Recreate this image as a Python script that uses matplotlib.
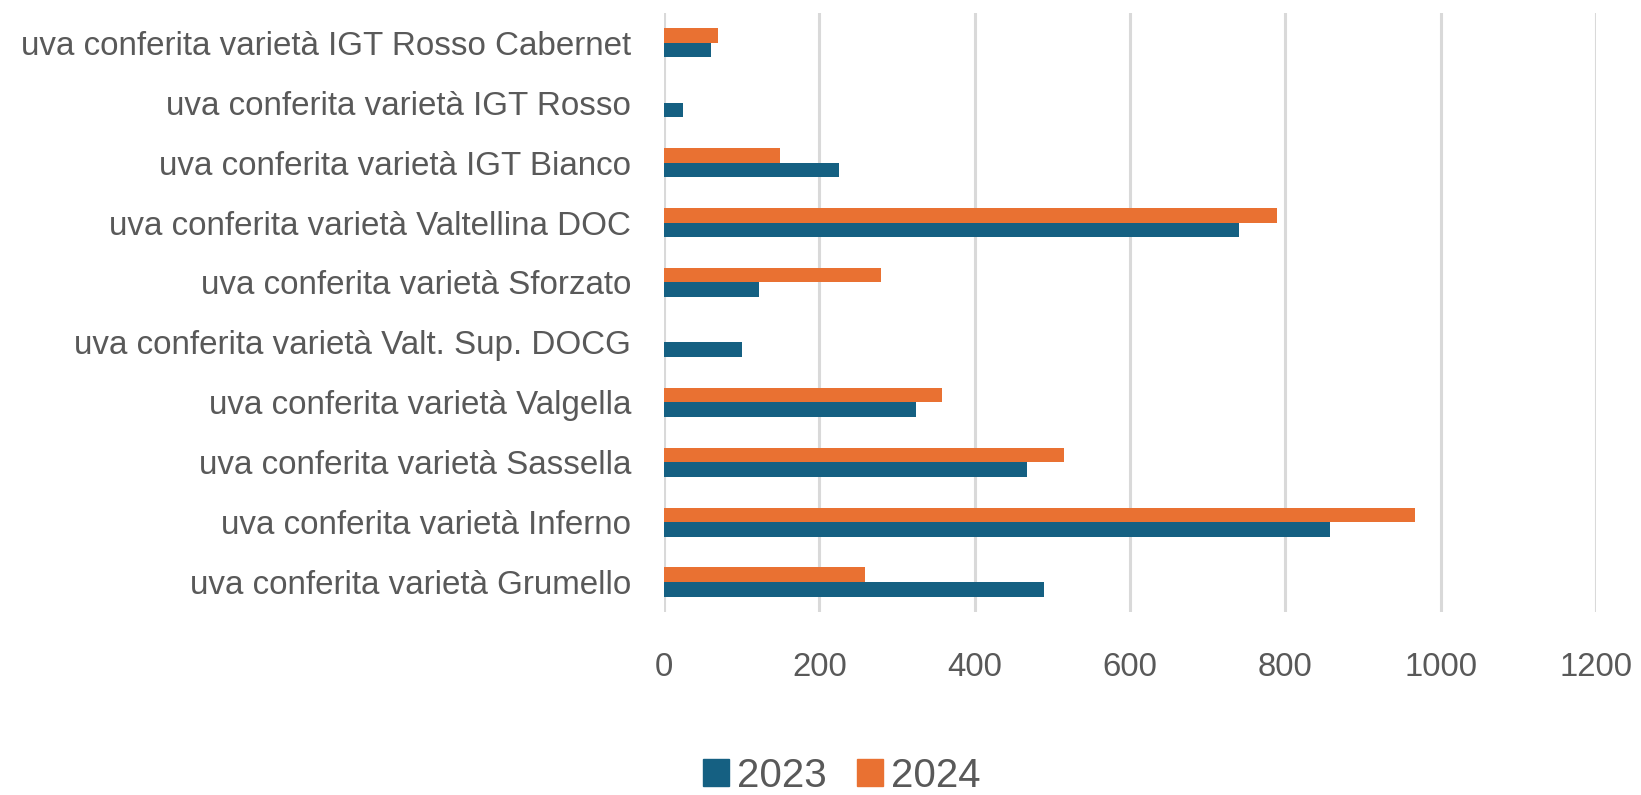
import numpy as np
from matplotlib import pyplot as plt
from matplotlib.patches import Patch

plt.rcParams["font.family"] = ["Liberation Sans", "DejaVu Sans"]

# categories, bottom to top as drawn
categories = [
    "uva conferita varietà Grumello",
    "uva conferita varietà Inferno",
    "uva conferita varietà Sassella",
    "uva conferita varietà Valgella",
    "uva conferita varietà Valt. Sup. DOCG",
    "uva conferita varietà Sforzato",
    "uva conferita varietà Valtellina DOC",
    "uva conferita varietà IGT Bianco",
    "uva conferita varietà IGT Rosso",
    "uva conferita varietà IGT Rosso Cabernet",
]
values_2023 = [489, 857, 468, 325, 100, 123, 740, 225, 24, 61]
values_2024 = [259, 967, 515, 358, 0, 280, 789, 149, 0, 69]
x_ticks = [0, 200, 400, 600, 800, 1000, 1200]

BLUE = "#156082"
ORANGE = "#E97132"
GREY_TEXT = "#595959"
GRID = "#D9D9D9"

fig = plt.figure(figsize=(16.41, 7.95), dpi=100)
ax = fig.add_axes([0.4046, 0.230, 0.568, 0.754])

y = np.arange(len(categories))
h = 0.245
ax.barh(y - h / 2, values_2023, height=h, color=BLUE, label="2023", zorder=3)
ax.barh(y + h / 2, values_2024, height=h, color=ORANGE, label="2024", zorder=3)

ax.set_xlim(0, 1200)
ax.set_ylim(-0.5, len(categories) - 0.5)
ax.set_xticks(x_ticks)
ax.set_xticklabels([str(t) for t in x_ticks])
ax.set_yticks(y)
ax.set_yticklabels(categories)

ax.grid(axis="x", color=GRID, linewidth=2.2, zorder=0)
for s in ax.spines.values():
    s.set_visible(False)
ax.tick_params(axis="x", length=0, pad=29, labelsize=23.7, labelcolor=GREY_TEXT)
ax.tick_params(axis="y", length=0, pad=23.5, labelsize=23.9, labelcolor=GREY_TEXT)

handles = [Patch(color=BLUE, label="2023"), Patch(color=ORANGE, label="2024")]
fig.legend(handles=handles, loc="center", bbox_to_anchor=(0.513, 0.024),
           ncol=2, frameon=False, fontsize=29, labelcolor=GREY_TEXT,
           handlelength=0.65, handleheight=0.65, handletextpad=0.2,
           columnspacing=0.75)

fig.savefig("out.png", dpi=100)
